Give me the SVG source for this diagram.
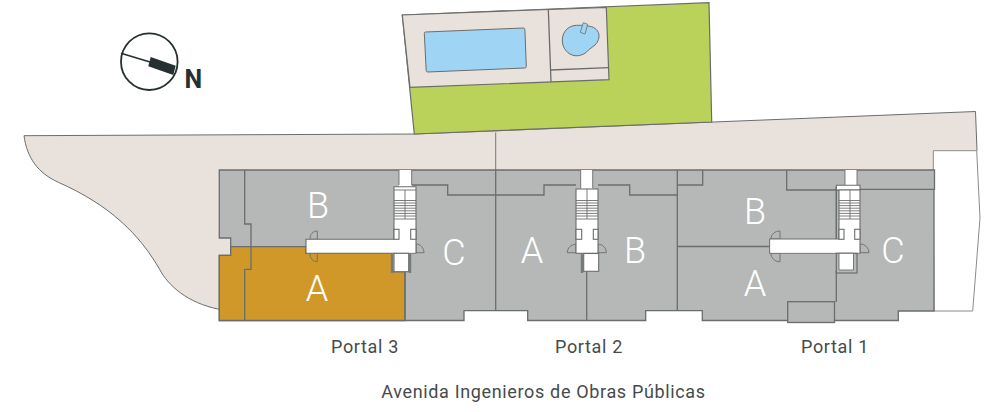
<svg xmlns="http://www.w3.org/2000/svg" width="985" height="412" viewBox="0 0 985 412">
<style>
.w{stroke:#6b6d6c;stroke-width:1.3;fill:none}
.g{fill:#b5b8b6;stroke:#6b6d6c;stroke-width:1.3}
.c{fill:#fff;stroke:#6b6d6c;stroke-width:1.1}
.o{fill:#fff;stroke:none}
.t{stroke:#6b6d6c;stroke-width:.9;fill:none}
.tk{stroke:#77797a;stroke-width:2.4;fill:none}
.big{font-family:Roboto,"Liberation Sans",sans-serif;font-weight:300;font-size:36px;fill:#fff;text-anchor:middle}
.lab{font-family:Roboto,"Liberation Sans",sans-serif;font-size:18px;letter-spacing:.65px;fill:#454b4c;text-anchor:middle}
</style>
<defs>
<g id="stairs" class="t">
<path d="M0 200.500H22M0 203H22M0 205.600H22M0 208.200H22M0 210.800H22M0 213.400H22M0 216H22M0 219H22"/>
</g>
</defs>
<g id="site">
<path d="M24 135.700L415 134L975.500 111.500L977 150.700L933.300 150.700L933.300 172L240 172L240 309.300L219.300 309.300C187 303 168 285 160 270C140 235 110 205 58.300 182.300C38 173 27 158 24 135.700Z" fill="#e9e2dc" stroke="none"/>
<path d="M219.300 309.300C187 303 168 285 160 270C140 235 110 205 58.300 182.300C38 173 27 158 24 135.700L415 134L975.500 111.500L977 150.700" fill="none" stroke="#6b6d6c" stroke-width="1"/>
<path d="M933.300 170V150.700H976.700L980 218L972.700 311H934Z" fill="#fff" stroke="#8a8c8b" stroke-width="1"/>
<path class="t" d="M495.700 132.500V172"/>
</g>
<g id="garden">
<path d="M402.300 15L709 2.700L711.700 122L414.300 134Z" fill="#bad15a" stroke="#6b6d6c" stroke-width="1.200"/>
<path d="M402.300 15L606.300 7.300L609 79.700L410 87.300Z" fill="#e9e2dc" stroke="#6b6d6c" stroke-width="1.200"/>
<path class="w" d="M548.300 9.300L551 81.700M550.700 70L608.300 67.700"/>
<path d="M425.500 32L523.300 28Q524.800 28 524.900 29.500L526.300 66.500Q526.300 68 524.800 68L427.800 72Q426.300 72 426.200 70.500L424.300 33.500Q424.200 32 425.500 32Z" fill="#a0d4f4" stroke="#6b6d6c" stroke-width="1"/>
<path d="M562.300 40C562.500 31 569 25.500 576.700 25.300C582 25.200 587 25.500 591.700 26.700C597 28.500 599.500 33 599 37C598.500 41 596.500 43.500 595 45C591 48 588 50.500 585 53.300C581 55.500 578 56 575 55.700C568 55 562 48 562.300 40Z" fill="#a0d4f4" stroke="#6b6d6c" stroke-width="1"/>
<path d="M583.300 22.700L587.700 24.300L585 34L580.300 32.300Z" fill="#a0d4f4" stroke="#6b6d6c" stroke-width=".8"/>
</g>
<g id="building">
<path class="g" d="M219.300 170H934.500V189.300H934V311H898.300V320.500H834.500V320.500H787.700V320.500H702.300V310.700H645.700V320.500H527.700V310.700H464V320.500H219.300V255.300H230.700V238H219.300Z"/>
<path d="M219.300 255.300H230.700V246.700H306V253.300H392V271.700H405V320.500H219.300Z" fill="#d09829" stroke="#6b6d6c" stroke-width="1.300"/>
<path class="w" d="M244.700 170V224H251V269.300H244.700V320.500"/>
<path class="w" d="M405 271.700V320.500"/>
<path class="w" d="M411.700 185H447.700V195H544V185H576M598 185H629.700V195H677.300"/>
<path class="w" d="M495.700 170V310.700M677.300 170V310.700"/>
<path class="w" d="M586.700 271.300V320.500"/>
<path class="w" d="M677.300 185H702.700V170M677.300 246.500H769.700"/>
<path class="w" d="M786.700 170V190H844M857 189.300H934.500"/>
<path class="w" d="M836.300 187V239M836.300 270V302"/>
<rect class="g" x="787.700" y="301.700" width="46.800" height="20.800"/>
</g>
<g id="portal-3">
<path class="t" d="M317.300 239.300H310C310 234 313 231 317.300 231ZM317.300 253.300H310C310 258.500 313 261.700 317.300 261.700ZM416 252.700V244C420.500 244 424 248 424 252.700Z"/>
<rect class="o" x="399" y="170" width="12.700" height="17"/>
<path class="t" d="M399 170V185M411.700 170V185"/>
<path class="c" d="M306 239.300H394V186.700H416V253.300H306Z"/>
<path class="o" d="M395 240H415V252.500H395Z"/>
<use href="#stairs" transform="translate(394 0)"/>
<path class="t" d="M394 190H416M405 190V219"/>
<rect class="c" x="394" y="229.300" width="5" height="10"/>
<rect class="c" x="410.700" y="229.300" width="5.300" height="10"/>
<rect class="c" x="394" y="253.300" width="14.700" height="18.400"/>
<path class="tk" d="M392 254V273M410 254V273"/>
</g>
<g id="portal-2">
<path class="t" d="M576 252.700H567.300C567.300 248 571 244.300 576 244.300ZM598 252.700H606.300C606.300 248 603 244.300 598 244.300Z"/>
<rect class="o" x="580.700" y="170" width="12" height="19"/>
<path class="t" d="M580.700 170V188M592.700 170V188"/>
<rect class="c" x="576" y="189" width="22" height="64.300"/>
<use href="#stairs" transform="translate(576 0)"/>
<path class="t" d="M587 189V219"/>
<rect class="c" x="576" y="229.300" width="5.700" height="10"/>
<rect class="c" x="593.300" y="229.300" width="4.700" height="10"/>
<rect class="c" x="583.700" y="253.500" width="15" height="17.800"/>
<path class="tk" d="M582 254V273"/>
</g>
<g id="portal-1">
<path class="t" d="M780 239H771C771 234 775 231 780 231ZM780 253.300H771C771 258.500 775 261.700 780 261.700ZM860 252.700V244C865 244 869 248 869 252.700Z"/>
<rect class="o" x="845" y="170" width="12" height="16"/>
<path class="t" d="M845 170V185.300M857 170V185.300"/>
<path class="c" d="M836.300 185.300H860V190H836.300Z"/>
<path class="c" d="M769.700 239H839V190H860V253.300H769.700Z"/>
<path class="o" d="M770.500 240H859V252.500H770.500Z"/>
<path class="t" d="M850 190V219M836.300 187V239"/>
<use href="#stairs" transform="translate(839 0) scale(.95 1)"/>
<rect class="c" x="839" y="229.300" width="5" height="10"/>
<rect class="c" x="854.700" y="229.300" width="5.300" height="10"/>
<rect x="836.300" y="253.300" width="20.700" height="19.700" fill="#b5b8b6" stroke="#6b6d6c" stroke-width="1.200"/>
<path d="M839 253.300V270H853.500V253.300Z" fill="#fff" stroke="#6b6d6c" stroke-width=".9"/>
</g>
<g id="compass">
<circle cx="149.300" cy="61.700" r="28.300" fill="#fff" stroke="#263032" stroke-width="1.800"/>
<path d="M121 53.300L150 62" stroke="#263032" stroke-width="1.700" fill="none"/>
<path d="M150.700 57L175.700 65.700L173.300 75L148.300 66.300Z" fill="#263032"/>
<text x="184.500" y="88.300" font-family="Roboto,'Liberation Sans',sans-serif" font-weight="700" font-size="25" fill="#263032">N</text>
</g>
<g id="labels">
<text class="big" x="318" y="217.700">B</text>
<text class="big" x="317" y="300.700">A</text>
<text class="big" x="454" y="265">C</text>
<text class="big" x="532" y="262.700">A</text>
<text class="big" x="635" y="262.700">B</text>
<text class="big" x="755" y="224">B</text>
<text class="big" x="755" y="295.700">A</text>
<text class="big" x="893" y="262.700">C</text>
<text class="lab" x="365" y="353">Portal 3</text>
<text class="lab" x="589" y="353">Portal 2</text>
<text class="lab" x="835" y="353">Portal 1</text>
<text class="lab" x="543.500" y="398">Avenida Ingenieros de Obras Públicas</text>
</g>
</svg>
